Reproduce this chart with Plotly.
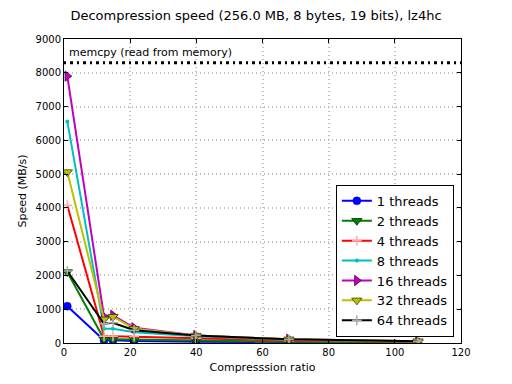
import plotly.graph_objects as go

ratios = [1.0, 12.1, 14.8, 21.2, 39.9, 68.0, 107.0]
series_names = ["1 threads", "2 threads", "4 threads", "8 threads", "16 threads", "32 threads", "64 threads"]
speed_1 = [1090, 80, 80, 60, 40, 25, 15]
speed_2 = [2100, 110, 110, 100, 70, 40, 20]
speed_4 = [4080, 200, 200, 190, 140, 70, 35]
speed_8 = [6560, 420, 420, 320, 200, 90, 45]
speed_16 = [7900, 780, 820, 450, 220, 110, 55]
speed_32 = [5060, 700, 780, 420, 220, 110, 55]
speed_64 = [2130, 570, 600, 380, 220, 110, 55]
memcpy_speed = 8300
memcpy_label = "memcpy (read from memory)"
x_ticks = [0, 20, 40, 60, 80, 100, 120]
y_ticks = [0, 1000, 2000, 3000, 4000, 5000, 6000, 7000, 8000, 9000]

all_speeds = [speed_1, speed_2, speed_4, speed_8, speed_16, speed_32, speed_64]
styles = [
    dict(color="#0000ff", symbol="circle", size=8, mcolor="#0000ff", mline="#0000ff", mlw=0.5),
    dict(color="#008000", symbol="triangle-down", size=9, mcolor="#008000", mline="#003000", mlw=0.8),
    dict(color="#ff0000", symbol="cross-thin", size=7, mcolor="#ffaaaa", mline="#ffaaaa", mlw=1.5),
    dict(color="#00bfbf", symbol="circle", size=4, mcolor="#00bfbf", mline="#00bfbf", mlw=0),
    dict(color="#bf00bf", symbol="triangle-right", size=9, mcolor="#bf00bf", mline="#500050", mlw=0.8),
    dict(color="#bfbf00", symbol="triangle-down", size=9, mcolor="#bfbf00", mline="#404000", mlw=0.8),
    dict(color="#000000", symbol="cross-thin", size=7, mcolor="#aaaaaa", mline="#aaaaaa", mlw=1.5),
]

fig = go.Figure()
for name, ys, st in zip(series_names, all_speeds, styles):
    fig.add_trace(go.Scatter(
        x=ratios, y=ys, name=name, mode="lines+markers",
        line=dict(color=st["color"], width=2),
        marker=dict(symbol=st["symbol"], size=st["size"], color=st["mcolor"],
                    line=dict(color=st["mline"], width=st["mlw"])),
    ))

fig.add_trace(go.Scatter(
    x=[x_ticks[0], x_ticks[-1]], y=[memcpy_speed, memcpy_speed], mode="lines",
    line=dict(color="black", width=3, dash="2px,4px,3px,4px"), showlegend=False,
))
fig.add_annotation(x=0.8, y=memcpy_speed + 40, text=memcpy_label, showarrow=False,
                   xanchor="left", yanchor="bottom", font=dict(size=11, color="black"))

axis_common = dict(
    showline=True, linecolor="black", linewidth=1, mirror="allticks",
    ticks="inside", ticklen=4, tickcolor="black",
    showgrid=True, gridcolor="#c0c0c0", griddash="1px,3px", gridwidth=1.5,
    zeroline=False, tickfont=dict(size=10, color="black"),
)
fig.update_xaxes(range=[0, 120], tickvals=x_ticks, title=dict(text="Compresssion ratio", font=dict(size=11), standoff=6), **axis_common)
fig.update_yaxes(range=[0, 9000], tickvals=y_ticks, title=dict(text="Speed (MB/s)", font=dict(size=11), standoff=6), **axis_common)

fig.update_layout(
    width=512, height=384,
    margin=dict(l=64, r=51, t=39, b=38),
    paper_bgcolor="white", plot_bgcolor="white",
    font=dict(family="DejaVu Sans", color="black"),
    title=dict(text="Decompression speed (256.0 MB, 8 bytes, 19 bits), lz4hc",
               x=0.5, xanchor="center", y=0.96, yanchor="middle", font=dict(size=13)),
    legend=dict(x=0.982, y=0.02, xanchor="right", yanchor="bottom",
                bordercolor="black", borderwidth=1, bgcolor="white",
                font=dict(size=13), tracegroupgap=0, itemwidth=30),
    showlegend=True,
)

fig.write_html("out.html", config={"displayModeBar": False},
               post_script="document.body.style.margin='0';document.body.style.padding='0';")
